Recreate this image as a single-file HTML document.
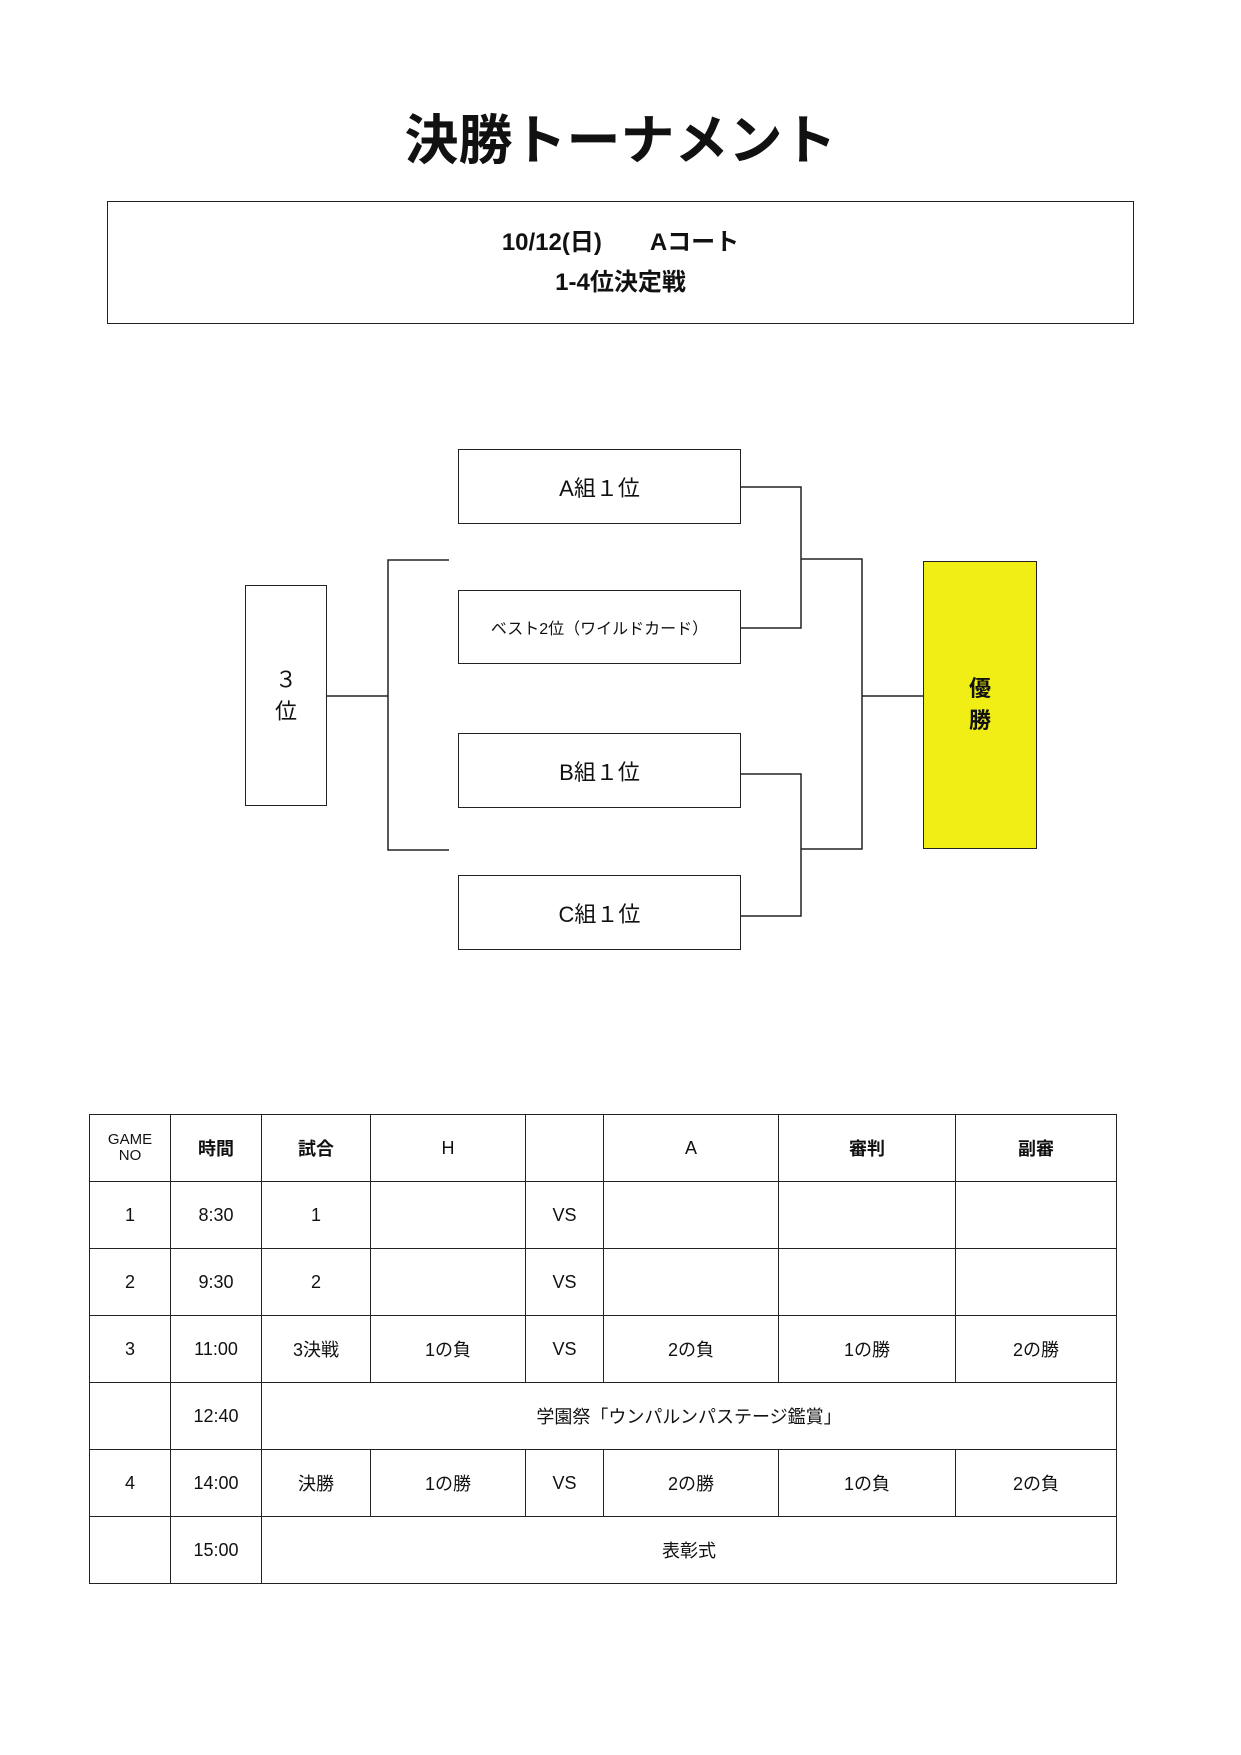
<!DOCTYPE html>
<html><head><meta charset="utf-8"><style>
html,body{margin:0;padding:0;background:#fff}
body{width:1241px;height:1755px;position:relative;overflow:hidden;font-family:"Liberation Sans","Noto Sans CJK JP",sans-serif;color:#111}
.t{position:absolute;text-align:center;white-space:nowrap}
.box{position:absolute;border:1.5px solid #222;box-sizing:border-box;display:flex;align-items:center;justify-content:center;text-align:center}
table{position:absolute;left:89px;top:1114px;border-collapse:collapse;table-layout:fixed}
td{border:1.5px solid #222;height:66px;text-align:center;font-size:18px;padding:0}
.b{font-weight:bold}
</style></head><body>
<div class="t" style="left:0;width:1241px;top:104px;font-size:54px;font-weight:bold;line-height:64px;font-family:'Noto Sans CJK JP',sans-serif">決勝トーナメント</div>
<div class="box" style="left:107px;top:201px;width:1027px;height:123px;flex-direction:column;font-size:24px;line-height:40px;font-weight:bold">
<div>10/12(日)　　Aコート</div><div>1-4位決定戦</div></div>

<div class="box" style="left:458px;top:449px;width:283px;height:75px;font-size:22px">A組１位</div>
<div class="box" style="left:458px;top:590px;width:283px;height:74px;font-size:16px">ベスト2位（ワイルドカード）</div>
<div class="box" style="left:458px;top:733px;width:283px;height:75px;font-size:22px">B組１位</div>
<div class="box" style="left:458px;top:875px;width:283px;height:75px;font-size:22px">C組１位</div>
<div class="box" style="left:245px;top:585px;width:82px;height:221px;font-size:22px;line-height:32px">３<br>位</div>
<div class="box" style="left:923px;top:561px;width:114px;height:288px;background:#f0ee14;font-size:22px;font-weight:bold;line-height:32px">優<br>勝</div>

<svg style="position:absolute;left:0;top:0" width="1241" height="1755" fill="none" stroke="#222" stroke-width="1.5">
<polyline points="741,487 801,487 801,628 741,628"/>
<polyline points="741,774 801,774 801,916 741,916"/>
<polyline points="801,559 862,559 862,849 801,849"/>
<line x1="862" y1="696" x2="923" y2="696"/>
<polyline points="449,560 388,560 388,850 449,850"/>
<line x1="327" y1="696" x2="388" y2="696"/>
</svg>

<table>
<colgroup><col style="width:81px"><col style="width:91px"><col style="width:109px"><col style="width:155px"><col style="width:78px"><col style="width:175px"><col style="width:177px"><col style="width:161px"></colgroup>
<tr><td style="font-size:15px;line-height:16px">GAME<br>NO</td><td class="b">時間</td><td class="b">試合</td><td>H</td><td></td><td>A</td><td class="b">審判</td><td class="b">副審</td></tr>
<tr><td>1</td><td>8:30</td><td>1</td><td></td><td>VS</td><td></td><td></td><td></td></tr>
<tr><td>2</td><td>9:30</td><td>2</td><td></td><td>VS</td><td></td><td></td><td></td></tr>
<tr><td>3</td><td>11:00</td><td>3決戦</td><td>1の負</td><td>VS</td><td>2の負</td><td>1の勝</td><td>2の勝</td></tr>
<tr><td></td><td>12:40</td><td colspan="6">学園祭「ウンパルンパステージ鑑賞」</td></tr>
<tr><td>4</td><td>14:00</td><td>決勝</td><td>1の勝</td><td>VS</td><td>2の勝</td><td>1の負</td><td>2の負</td></tr>
<tr><td></td><td>15:00</td><td colspan="6">表彰式</td></tr>
</table>
</body></html>
